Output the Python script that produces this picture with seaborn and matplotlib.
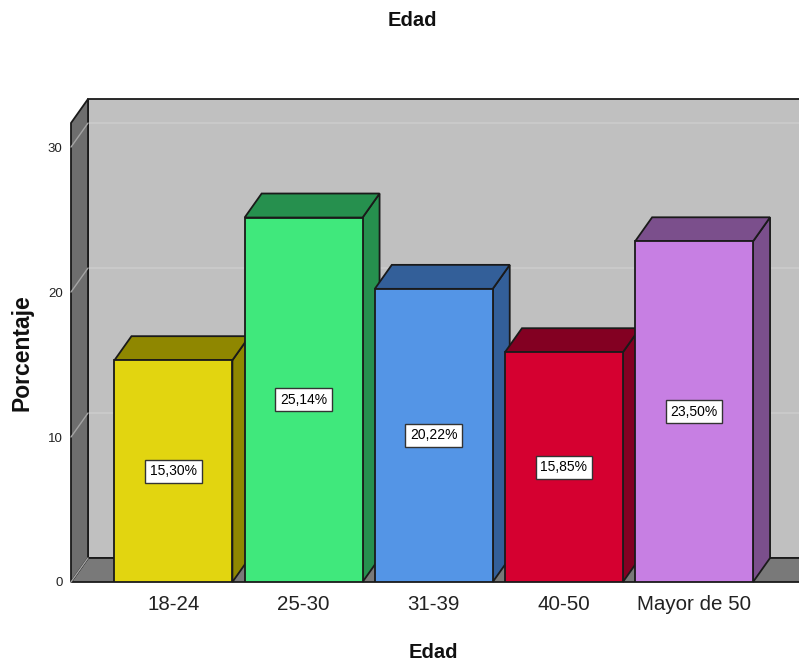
import matplotlib
matplotlib.use("Agg")
import matplotlib.pyplot as plt
from matplotlib import font_manager as fm
from matplotlib.patches import Polygon
import seaborn as sns
import pandas as pd

# ---------------- data ----------------
categories = ["18-24", "25-30", "31-39", "40-50", "Mayor de 50"]
values = [15.30, 25.14, 20.22, 15.85, 23.50]
value_labels = ["15,30%", "25,14%", "20,22%", "15,85%", "23,50%"]
yticks = [0, 10, 20, 30]
title = "Edad"
xlabel = "Edad"
ylabel = "Porcentaje"

front_colors = ["#e2d510", "#40e87c", "#5495e6", "#d50030", "#c77fe3"]
dark_colors = ["#8f8700", "#26904e", "#335f99", "#830022", "#7b4f8c"]

sns.set_theme(style="white")
names = {f.name for f in fm.fontManager.ttflist}
narrow = "Liberation Sans Narrow" in names
if narrow:
    FAM = ["Liberation Sans Narrow", "Liberation Sans", "DejaVu Sans"]
    s_xt, s_yt, s_lab, s_title = 17, 11, 12, 17.5
else:
    FAM = ["Liberation Sans", "DejaVu Sans"]
    s_xt, s_yt, s_lab, s_title = 14.8, 9.5, 10, 14.5
plt.rcParams["font.family"] = FAM

W, H = 799, 663
fig = plt.figure(figsize=(W / 100, H / 100), dpi=100)
ax_l, ax_r, ax_t, ax_b = 71, 799, 123, 582
ax = fig.add_axes([ax_l / W, (H - ax_b) / H, (ax_r - ax_l) / W, (ax_b - ax_t) / H])

df = pd.DataFrame({"cat": categories, "val": values})
sns.barplot(data=df, x="cat", y="val", hue="cat", palette=front_colors,
            legend=False, width=0.906, edgecolor="#1a1a1a", linewidth=1.3,
            saturation=1, ax=ax)

x0, x1 = -0.787, 4.806
y0, y1 = 0, 31.66
ax.set_xlim(x0, x1)
ax.set_ylim(y0, y1)

# depth in data units
depth_px_x, depth_px_y = 17, 24
dx = depth_px_x * (x1 - x0) / (ax_r - ax_l)
dy = depth_px_y * (y1 - y0) / (ax_b - ax_t)

edge = "#1a1a1a"
# back wall
ax.add_patch(Polygon([(x0 + dx, dy), (x1 + dx + 1, dy), (x1 + dx + 1, y1 + dy), (x0 + dx, y1 + dy)],
                     closed=True, facecolor="#c0c0c0", edgecolor=edge, lw=1.3,
                     clip_on=False, zorder=1))
# gridlines on back wall
for t in yticks[1:]:
    ax.plot([x0 + dx, x1 + dx + 1], [t + dy, t + dy], color="#cbcbcb", lw=1.2,
            clip_on=False, zorder=2)
# floor
ax.add_patch(Polygon([(x0, 0), (x1 + 1, 0), (x1 + dx + 1, dy), (x0 + dx, dy)],
                     closed=True, facecolor="#797979", edgecolor=edge, lw=1.3,
                     clip_on=False, zorder=3))
# left wall
ax.add_patch(Polygon([(x0, 0), (x0 + dx, dy), (x0 + dx, y1 + dy), (x0, y1)],
                     closed=True, facecolor="#6e6e6e", edgecolor=edge, lw=1.3,
                     clip_on=False, zorder=3))
for t in yticks:
    ax.plot([x0, x0 + dx], [t, t + dy], color="#a4a4a4", lw=1.0, clip_on=False, zorder=4)

# 3D faces of bars
for i, p in enumerate(ax.patches[:len(values)]):
    bx, bw, bh = p.get_x(), p.get_width(), p.get_height()
    p.set_zorder(10 + 3 * i + 2)
    side = Polygon([(bx + bw, 0), (bx + bw + dx, dy), (bx + bw + dx, bh + dy), (bx + bw, bh)],
                   closed=True, facecolor=dark_colors[i], edgecolor=edge, lw=1.3,
                   zorder=10 + 3 * i + 1, clip_on=False)
    top = Polygon([(bx, bh), (bx + dx, bh + dy), (bx + bw + dx, bh + dy), (bx + bw, bh)],
                  closed=True, facecolor=dark_colors[i], edgecolor=edge, lw=1.3,
                  zorder=10 + 3 * i + 1, clip_on=False)
    ax.add_patch(side)
    ax.add_patch(top)
    ax.text(bx + bw / 2, bh / 2, value_labels[i], ha="center", va="center",
            fontsize=s_lab, color="black", zorder=40,
            bbox=dict(boxstyle="square,pad=0.33", facecolor="white",
                      edgecolor="#333333", lw=1.0))

for s in ax.spines.values():
    s.set_visible(False)
ax.set_facecolor("none")
ax.grid(False)
ax.set_xlabel("")
ax.set_ylabel("")
ax.set_yticks(yticks)
ax.set_yticklabels([str(t) for t in yticks], fontsize=s_yt, color="#222222")
ax.tick_params(axis="y", length=0, pad=6)
ax.tick_params(axis="x", length=0, pad=9, labelsize=s_xt, labelcolor="#222222")

fig.text(412 / W, 1 - 20 / H, title, ha="center", va="center",
         fontsize=s_title, fontweight="bold", color="#111111")
fig.text(433 / W, 1 - 652 / H, xlabel, ha="center", va="center",
         fontsize=s_title, fontweight="bold", color="#111111")
fig.text(22 / W, 1 - 353 / H, ylabel, ha="center", va="center", rotation=90,
         fontsize=16.5, fontweight="bold", color="#111111",
         family=["Liberation Sans", "DejaVu Sans"])

fig.savefig("out.png", dpi=100)
